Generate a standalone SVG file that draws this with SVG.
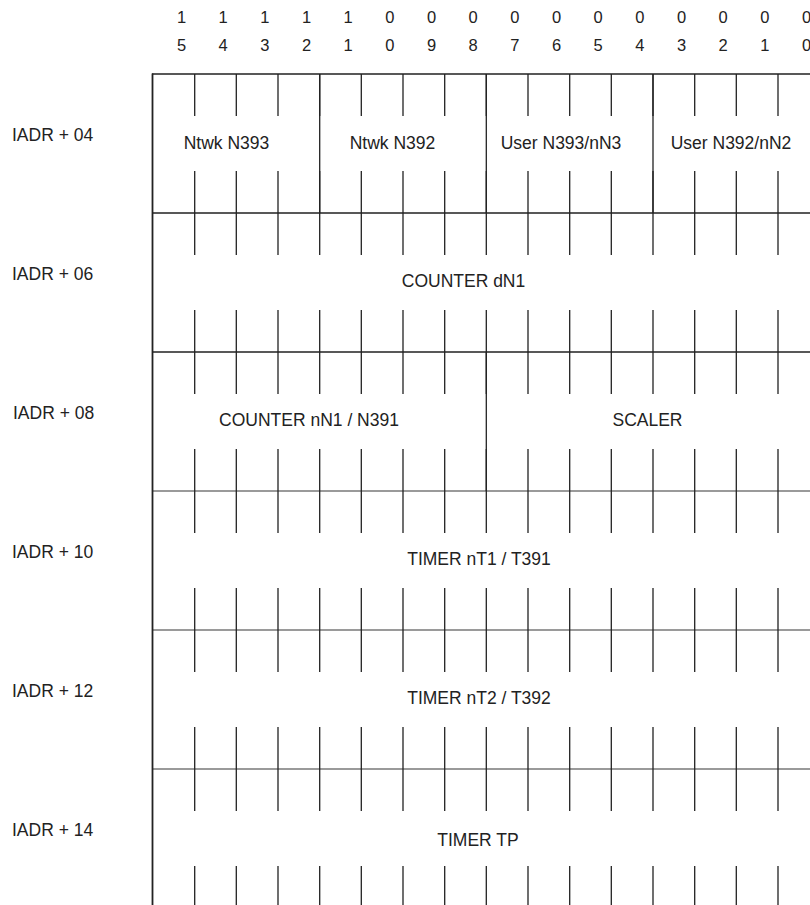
<svg xmlns="http://www.w3.org/2000/svg" width="810" height="905" viewBox="0 0 810 905">
<style>
text{font-family:"Liberation Sans",Arial,sans-serif;fill:#222;}
.bit{font-size:16.5px;text-anchor:middle;}
.lab{font-size:17.5px;}
.fld{font-size:17.5px;text-anchor:middle;}
.dk{stroke:#222;stroke-width:1.5;fill:none;}
.tk{stroke:#222;stroke-width:1.3;fill:none;}
.lt{stroke:#7a7a7a;stroke-width:1.4;fill:none;}
</style>
<rect width="810" height="905" fill="#fff"/>
<g id="header">
<text class="bit" x="181.5" y="23">1</text><text class="bit" x="223.2" y="23">1</text><text class="bit" x="264.8" y="23">1</text><text class="bit" x="306.5" y="23">1</text><text class="bit" x="348.2" y="23">1</text><text class="bit" x="389.8" y="23">0</text><text class="bit" x="431.5" y="23">0</text><text class="bit" x="473.2" y="23">0</text><text class="bit" x="514.8" y="23">0</text><text class="bit" x="556.5" y="23">0</text><text class="bit" x="598.2" y="23">0</text><text class="bit" x="639.8" y="23">0</text><text class="bit" x="681.5" y="23">0</text><text class="bit" x="723.2" y="23">0</text><text class="bit" x="764.8" y="23">0</text><text class="bit" x="806.5" y="23">0</text>
<text class="bit" x="181.5" y="51">5</text><text class="bit" x="223.2" y="51">4</text><text class="bit" x="264.8" y="51">3</text><text class="bit" x="306.5" y="51">2</text><text class="bit" x="348.2" y="51">1</text><text class="bit" x="389.8" y="51">0</text><text class="bit" x="431.5" y="51">9</text><text class="bit" x="473.2" y="51">8</text><text class="bit" x="514.8" y="51">7</text><text class="bit" x="556.5" y="51">6</text><text class="bit" x="598.2" y="51">5</text><text class="bit" x="639.8" y="51">4</text><text class="bit" x="681.5" y="51">3</text><text class="bit" x="723.2" y="51">2</text><text class="bit" x="764.8" y="51">1</text><text class="bit" x="806.5" y="51">0</text>
</g>
<g id="connectors">
<path class="dk" d="M152 74H810M152 213H810M152 352H810"/>
<path class="lt" d="M152 491H810M152 630H810M152 769H810"/>
<path class="dk" d="M152.5 73.5V905" style="stroke-width:1.8"/>
<path class="tk" d="M194.7 74V116M194.7 171V255M194.7 310V394M194.7 449V533M194.7 588V672M194.7 727V811M194.7 866V905
M236.3 74V116M236.3 171V255M236.3 310V394M236.3 449V533M236.3 588V672M236.3 727V811M236.3 866V905
M278 74V116M278 171V255M278 310V394M278 449V533M278 588V672M278 727V811M278 866V905
M319.7 74V116M319.7 171V255M319.7 310V394M319.7 449V533M319.7 588V672M319.7 727V811M319.7 866V905
M361.3 74V116M361.3 171V255M361.3 310V394M361.3 449V533M361.3 588V672M361.3 727V811M361.3 866V905
M403 74V116M403 171V255M403 310V394M403 449V533M403 588V672M403 727V811M403 866V905
M444.7 74V116M444.7 171V255M444.7 310V394M444.7 449V533M444.7 588V672M444.7 727V811M444.7 866V905
M486.3 74V116M486.3 171V255M486.3 310V394M486.3 449V533M486.3 588V672M486.3 727V811M486.3 866V905
M528 74V116M528 171V255M528 310V394M528 449V533M528 588V672M528 727V811M528 866V905
M569.7 74V116M569.7 171V255M569.7 310V394M569.7 449V533M569.7 588V672M569.7 727V811M569.7 866V905
M611.3 74V116M611.3 171V255M611.3 310V394M611.3 449V533M611.3 588V672M611.3 727V811M611.3 866V905
M653 74V116M653 171V255M653 310V394M653 449V533M653 588V672M653 727V811M653 866V905
M694.7 74V116M694.7 171V255M694.7 310V394M694.7 449V533M694.7 588V672M694.7 727V811M694.7 866V905
M736.3 74V116M736.3 171V255M736.3 310V394M736.3 449V533M736.3 588V672M736.3 727V811M736.3 866V905
M778 74V116M778 171V255M778 310V394M778 449V533M778 588V672M778 727V811M778 866V905"/>
</g>
<g id="row04">
<text class="lab" x="12" y="141">IADR + 04</text>
<path class="tk" d="M319.7 74V213M486.3 74V213M653 74V213"/>
<text class="fld" x="226.5" y="149">Ntwk N393</text>
<text class="fld" x="392.5" y="149">Ntwk N392</text>
<text class="fld" x="561" y="149">User N393/nN3</text>
<text class="fld" x="731" y="149">User N392/nN2</text>
</g>
<g id="row06">
<text class="lab" x="12" y="280">IADR + 06</text>
<text class="fld" x="463.5" y="287">COUNTER dN1</text>
</g>
<g id="row08">
<text class="lab" x="13" y="419">IADR + 08</text>
<path class="tk" d="M486.3 352V491"/>
<text class="fld" x="309" y="426">COUNTER nN1 / N391</text>
<text class="fld" x="647.5" y="426">SCALER</text>
</g>
<g id="row10">
<text class="lab" x="12" y="558">IADR + 10</text>
<text class="fld" x="479" y="565">TIMER nT1 / T391</text>
</g>
<g id="row12">
<text class="lab" x="12" y="697">IADR + 12</text>
<text class="fld" x="479" y="704">TIMER nT2 / T392</text>
</g>
<g id="row14">
<text class="lab" x="12" y="836">IADR + 14</text>
<text class="fld" x="478" y="846">TIMER TP</text>
</g>
</svg>
